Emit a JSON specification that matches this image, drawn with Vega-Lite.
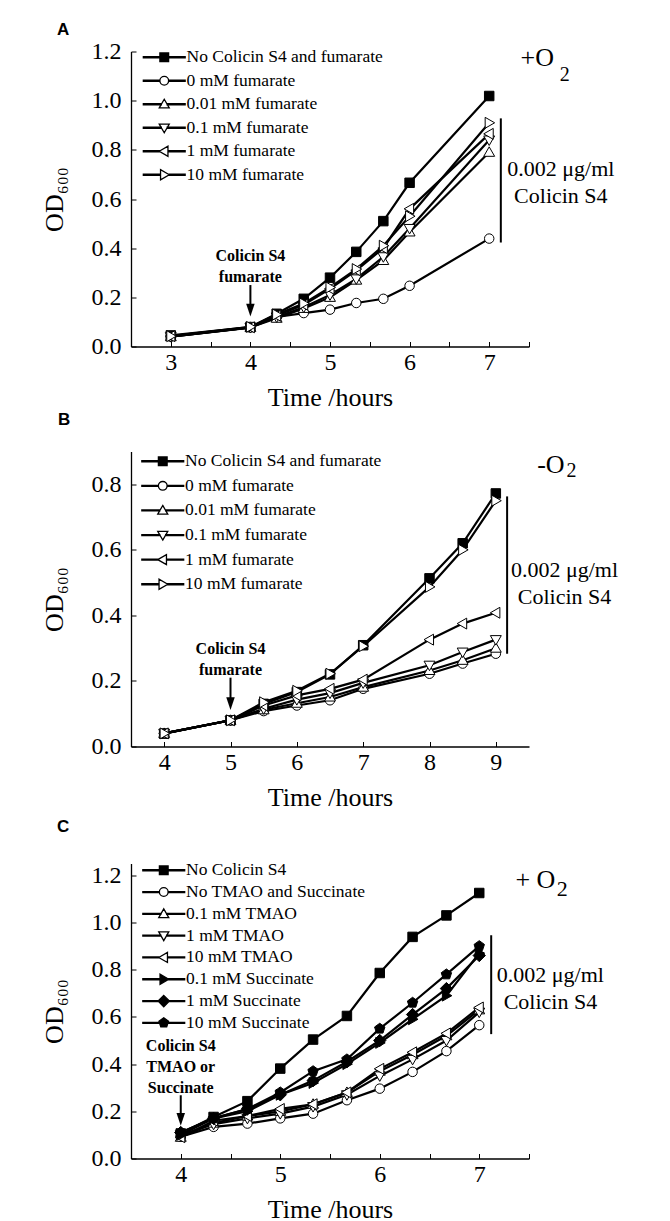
{
  "$schema": "https://vega.github.io/schema/vega-lite/v6.json",
  "padding": {"left": 41, "top": 20.5, "right": 5, "bottom": 5},
  "config": {
    "view": {"stroke": null},
    "font": "Liberation Serif",
    "axis": {
      "labelFont": "Liberation Serif", "labelFontSize": 24, "labelColor": "black",
      "titleFont": "Liberation Serif", "titleFontSize": 26, "titleFontWeight": "normal", "titleColor": "black",
      "domainColor": "black", "domainWidth": 1.3, "tickColor": "black", "tickWidth": 1, "tickSize": -5, "grid": false
    },
    "axisX": {"labelPadding": 8.5, "titlePadding": 10.5},
    "axisY": {"labelPadding": 15, "titlePadding": 24},
    "legend": {"labelFont": "Liberation Serif", "labelFontSize": 17.5, "labelColor": "black", "labelLimit": 0, "title": null, "padding": 0, "symbolSize": 76, "symbolStrokeWidth": 1.3, "symbolOpacity": 1, "labelOffset": 13.5, "orient": "none"},
    "title": {"font": "Liberation Sans", "fontSize": 17, "fontWeight": "bold", "color": "black", "anchor": "start", "baseline": "alphabetic", "frame": "group"}
  },
  "datasets": {
    "A": [
      {"series": "No Colicin S4 and fumarate", "t": 3, "od": 0.045}, {"series": "No Colicin S4 and fumarate", "t": 4, "od": 0.079}, {"series": "No Colicin S4 and fumarate", "t": 4.33, "od": 0.133}, {"series": "No Colicin S4 and fumarate", "t": 4.67, "od": 0.194}, {"series": "No Colicin S4 and fumarate", "t": 5, "od": 0.28}, {"series": "No Colicin S4 and fumarate", "t": 5.33, "od": 0.385}, {"series": "No Colicin S4 and fumarate", "t": 5.67, "od": 0.51}, {"series": "No Colicin S4 and fumarate", "t": 6, "od": 0.666}, {"series": "No Colicin S4 and fumarate", "t": 7, "od": 1.019},
      {"series": "0 mM fumarate", "t": 3, "od": 0.04}, {"series": "0 mM fumarate", "t": 4, "od": 0.078}, {"series": "0 mM fumarate", "t": 4.33, "od": 0.12}, {"series": "0 mM fumarate", "t": 4.67, "od": 0.136}, {"series": "0 mM fumarate", "t": 5, "od": 0.15}, {"series": "0 mM fumarate", "t": 5.33, "od": 0.177}, {"series": "0 mM fumarate", "t": 5.67, "od": 0.194}, {"series": "0 mM fumarate", "t": 6, "od": 0.247}, {"series": "0 mM fumarate", "t": 7, "od": 0.439},
      {"series": "0.01 mM fumarate", "t": 3, "od": 0.04}, {"series": "0.01 mM fumarate", "t": 4, "od": 0.078}, {"series": "0.01 mM fumarate", "t": 4.33, "od": 0.115}, {"series": "0.01 mM fumarate", "t": 4.67, "od": 0.155}, {"series": "0.01 mM fumarate", "t": 5, "od": 0.2}, {"series": "0.01 mM fumarate", "t": 5.33, "od": 0.27}, {"series": "0.01 mM fumarate", "t": 5.67, "od": 0.35}, {"series": "0.01 mM fumarate", "t": 6, "od": 0.466}, {"series": "0.01 mM fumarate", "t": 7, "od": 0.79},
      {"series": "0.1 mM fumarate", "t": 3, "od": 0.04}, {"series": "0.1 mM fumarate", "t": 4, "od": 0.077}, {"series": "0.1 mM fumarate", "t": 4.33, "od": 0.12}, {"series": "0.1 mM fumarate", "t": 4.67, "od": 0.16}, {"series": "0.1 mM fumarate", "t": 5, "od": 0.21}, {"series": "0.1 mM fumarate", "t": 5.33, "od": 0.275}, {"series": "0.1 mM fumarate", "t": 5.67, "od": 0.365}, {"series": "0.1 mM fumarate", "t": 6, "od": 0.48}, {"series": "0.1 mM fumarate", "t": 7, "od": 0.84},
      {"series": "1 mM fumarate", "t": 3, "od": 0.042}, {"series": "1 mM fumarate", "t": 4, "od": 0.078}, {"series": "1 mM fumarate", "t": 4.33, "od": 0.125}, {"series": "1 mM fumarate", "t": 4.67, "od": 0.17}, {"series": "1 mM fumarate", "t": 5, "od": 0.235}, {"series": "1 mM fumarate", "t": 5.33, "od": 0.31}, {"series": "1 mM fumarate", "t": 5.67, "od": 0.4}, {"series": "1 mM fumarate", "t": 6, "od": 0.56}, {"series": "1 mM fumarate", "t": 7, "od": 0.865},
      {"series": "10 mM fumarate", "t": 3, "od": 0.042}, {"series": "10 mM fumarate", "t": 4, "od": 0.08}, {"series": "10 mM fumarate", "t": 4.33, "od": 0.13}, {"series": "10 mM fumarate", "t": 4.67, "od": 0.175}, {"series": "10 mM fumarate", "t": 5, "od": 0.24}, {"series": "10 mM fumarate", "t": 5.33, "od": 0.315}, {"series": "10 mM fumarate", "t": 5.67, "od": 0.41}, {"series": "10 mM fumarate", "t": 6, "od": 0.53}, {"series": "10 mM fumarate", "t": 7, "od": 0.91}
    ],
    "B": [
      {"series": "No Colicin S4 and fumarate", "t": 4, "od": 0.039}, {"series": "No Colicin S4 and fumarate", "t": 5, "od": 0.08}, {"series": "No Colicin S4 and fumarate", "t": 5.5, "od": 0.13}, {"series": "No Colicin S4 and fumarate", "t": 6, "od": 0.166}, {"series": "No Colicin S4 and fumarate", "t": 6.5, "od": 0.22}, {"series": "No Colicin S4 and fumarate", "t": 7, "od": 0.309}, {"series": "No Colicin S4 and fumarate", "t": 8, "od": 0.513}, {"series": "No Colicin S4 and fumarate", "t": 8.5, "od": 0.62}, {"series": "No Colicin S4 and fumarate", "t": 9, "od": 0.772},
      {"series": "0 mM fumarate", "t": 4, "od": 0.04}, {"series": "0 mM fumarate", "t": 5, "od": 0.08}, {"series": "0 mM fumarate", "t": 5.5, "od": 0.108}, {"series": "0 mM fumarate", "t": 6, "od": 0.125}, {"series": "0 mM fumarate", "t": 6.5, "od": 0.141}, {"series": "0 mM fumarate", "t": 7, "od": 0.176}, {"series": "0 mM fumarate", "t": 8, "od": 0.222}, {"series": "0 mM fumarate", "t": 8.5, "od": 0.253}, {"series": "0 mM fumarate", "t": 9, "od": 0.283},
      {"series": "0.01 mM fumarate", "t": 4, "od": 0.04}, {"series": "0.01 mM fumarate", "t": 5, "od": 0.08}, {"series": "0.01 mM fumarate", "t": 5.5, "od": 0.112}, {"series": "0.01 mM fumarate", "t": 6, "od": 0.132}, {"series": "0.01 mM fumarate", "t": 6.5, "od": 0.151}, {"series": "0.01 mM fumarate", "t": 7, "od": 0.181}, {"series": "0.01 mM fumarate", "t": 8, "od": 0.232}, {"series": "0.01 mM fumarate", "t": 8.5, "od": 0.263}, {"series": "0.01 mM fumarate", "t": 9, "od": 0.3},
      {"series": "0.1 mM fumarate", "t": 4, "od": 0.04}, {"series": "0.1 mM fumarate", "t": 5, "od": 0.08}, {"series": "0.1 mM fumarate", "t": 5.5, "od": 0.115}, {"series": "0.1 mM fumarate", "t": 6, "od": 0.143}, {"series": "0.1 mM fumarate", "t": 6.5, "od": 0.163}, {"series": "0.1 mM fumarate", "t": 7, "od": 0.194}, {"series": "0.1 mM fumarate", "t": 8, "od": 0.248}, {"series": "0.1 mM fumarate", "t": 8.5, "od": 0.288}, {"series": "0.1 mM fumarate", "t": 9, "od": 0.326},
      {"series": "1 mM fumarate", "t": 4, "od": 0.04}, {"series": "1 mM fumarate", "t": 5, "od": 0.08}, {"series": "1 mM fumarate", "t": 5.5, "od": 0.125}, {"series": "1 mM fumarate", "t": 6, "od": 0.156}, {"series": "1 mM fumarate", "t": 6.5, "od": 0.176}, {"series": "1 mM fumarate", "t": 7, "od": 0.204}, {"series": "1 mM fumarate", "t": 8, "od": 0.326}, {"series": "1 mM fumarate", "t": 8.5, "od": 0.375}, {"series": "1 mM fumarate", "t": 9, "od": 0.408},
      {"series": "10 mM fumarate", "t": 4, "od": 0.04}, {"series": "10 mM fumarate", "t": 5, "od": 0.08}, {"series": "10 mM fumarate", "t": 5.5, "od": 0.135}, {"series": "10 mM fumarate", "t": 6, "od": 0.17}, {"series": "10 mM fumarate", "t": 6.5, "od": 0.222}, {"series": "10 mM fumarate", "t": 7, "od": 0.306}, {"series": "10 mM fumarate", "t": 8, "od": 0.487}, {"series": "10 mM fumarate", "t": 8.5, "od": 0.6}, {"series": "10 mM fumarate", "t": 9, "od": 0.75}
    ],
    "C": [
      {"series": "No Colicin S4", "t": 4, "od": 0.106}, {"series": "No Colicin S4", "t": 4.33, "od": 0.176}, {"series": "No Colicin S4", "t": 4.67, "od": 0.243}, {"series": "No Colicin S4", "t": 5, "od": 0.381}, {"series": "No Colicin S4", "t": 5.33, "od": 0.504}, {"series": "No Colicin S4", "t": 5.67, "od": 0.604}, {"series": "No Colicin S4", "t": 6, "od": 0.786}, {"series": "No Colicin S4", "t": 6.33, "od": 0.939}, {"series": "No Colicin S4", "t": 6.67, "od": 1.03}, {"series": "No Colicin S4", "t": 7, "od": 1.125},
      {"series": "No TMAO and Succinate", "t": 4, "od": 0.092}, {"series": "No TMAO and Succinate", "t": 4.33, "od": 0.134}, {"series": "No TMAO and Succinate", "t": 4.67, "od": 0.148}, {"series": "No TMAO and Succinate", "t": 5, "od": 0.17}, {"series": "No TMAO and Succinate", "t": 5.33, "od": 0.19}, {"series": "No TMAO and Succinate", "t": 5.67, "od": 0.247}, {"series": "No TMAO and Succinate", "t": 6, "od": 0.296}, {"series": "No TMAO and Succinate", "t": 6.33, "od": 0.367}, {"series": "No TMAO and Succinate", "t": 6.67, "od": 0.455}, {"series": "No TMAO and Succinate", "t": 7, "od": 0.565},
      {"series": "0.1 mM TMAO", "t": 4, "od": 0.09}, {"series": "0.1 mM TMAO", "t": 4.33, "od": 0.15}, {"series": "0.1 mM TMAO", "t": 4.67, "od": 0.18}, {"series": "0.1 mM TMAO", "t": 5, "od": 0.2}, {"series": "0.1 mM TMAO", "t": 5.33, "od": 0.23}, {"series": "0.1 mM TMAO", "t": 5.67, "od": 0.28}, {"series": "0.1 mM TMAO", "t": 6, "od": 0.37}, {"series": "0.1 mM TMAO", "t": 6.33, "od": 0.44}, {"series": "0.1 mM TMAO", "t": 6.67, "od": 0.52}, {"series": "0.1 mM TMAO", "t": 7, "od": 0.63},
      {"series": "1 mM TMAO", "t": 4, "od": 0.1}, {"series": "1 mM TMAO", "t": 4.33, "od": 0.145}, {"series": "1 mM TMAO", "t": 4.67, "od": 0.17}, {"series": "1 mM TMAO", "t": 5, "od": 0.19}, {"series": "1 mM TMAO", "t": 5.33, "od": 0.22}, {"series": "1 mM TMAO", "t": 5.67, "od": 0.27}, {"series": "1 mM TMAO", "t": 6, "od": 0.35}, {"series": "1 mM TMAO", "t": 6.33, "od": 0.42}, {"series": "1 mM TMAO", "t": 6.67, "od": 0.5}, {"series": "1 mM TMAO", "t": 7, "od": 0.62},
      {"series": "10 mM TMAO", "t": 4, "od": 0.09}, {"series": "10 mM TMAO", "t": 4.33, "od": 0.16}, {"series": "10 mM TMAO", "t": 4.67, "od": 0.18}, {"series": "10 mM TMAO", "t": 5, "od": 0.21}, {"series": "10 mM TMAO", "t": 5.33, "od": 0.23}, {"series": "10 mM TMAO", "t": 5.67, "od": 0.28}, {"series": "10 mM TMAO", "t": 6, "od": 0.38}, {"series": "10 mM TMAO", "t": 6.33, "od": 0.45}, {"series": "10 mM TMAO", "t": 6.67, "od": 0.53}, {"series": "10 mM TMAO", "t": 7, "od": 0.64},
      {"series": "0.1 mM Succinate", "t": 4, "od": 0.1}, {"series": "0.1 mM Succinate", "t": 4.33, "od": 0.17}, {"series": "0.1 mM Succinate", "t": 4.67, "od": 0.2}, {"series": "0.1 mM Succinate", "t": 5, "od": 0.27}, {"series": "0.1 mM Succinate", "t": 5.33, "od": 0.32}, {"series": "0.1 mM Succinate", "t": 5.67, "od": 0.4}, {"series": "0.1 mM Succinate", "t": 6, "od": 0.49}, {"series": "0.1 mM Succinate", "t": 6.33, "od": 0.59}, {"series": "0.1 mM Succinate", "t": 6.67, "od": 0.69}, {"series": "0.1 mM Succinate", "t": 7, "od": 0.87},
      {"series": "1 mM Succinate", "t": 4, "od": 0.11}, {"series": "1 mM Succinate", "t": 4.33, "od": 0.17}, {"series": "1 mM Succinate", "t": 4.67, "od": 0.21}, {"series": "1 mM Succinate", "t": 5, "od": 0.27}, {"series": "1 mM Succinate", "t": 5.33, "od": 0.33}, {"series": "1 mM Succinate", "t": 5.67, "od": 0.41}, {"series": "1 mM Succinate", "t": 6, "od": 0.5}, {"series": "1 mM Succinate", "t": 6.33, "od": 0.61}, {"series": "1 mM Succinate", "t": 6.67, "od": 0.72}, {"series": "1 mM Succinate", "t": 7, "od": 0.86},
      {"series": "10 mM Succinate", "t": 4, "od": 0.11}, {"series": "10 mM Succinate", "t": 4.33, "od": 0.17}, {"series": "10 mM Succinate", "t": 4.67, "od": 0.21}, {"series": "10 mM Succinate", "t": 5, "od": 0.28}, {"series": "10 mM Succinate", "t": 5.33, "od": 0.37}, {"series": "10 mM Succinate", "t": 5.67, "od": 0.42}, {"series": "10 mM Succinate", "t": 6, "od": 0.55}, {"series": "10 mM Succinate", "t": 6.33, "od": 0.66}, {"series": "10 mM Succinate", "t": 6.67, "od": 0.78}, {"series": "10 mM Succinate", "t": 7, "od": 0.9}
    ]
  },
  "spacing": 105,
  "bounds": "flush",
  "resolve": {"scale": {"shape": "independent", "fill": "independent"}, "legend": {"shape": "independent", "fill": "independent"}},
  "vconcat": [
    {
      "title": {"text": "A", "dx": -74, "offset": 1},
      "width": 398, "height": 295,
      "resolve": {"scale": {"shape": "independent", "fill": "independent"}, "legend": {"shape": "independent", "fill": "independent"}},
      "layer": [
        {
          "data": {"name": "A"},
          "mark": {"type": "line", "color": "black", "strokeWidth": 2.2},
          "encoding": {
            "x": {"field": "t", "type": "quantitative", "scale": {"domain": [2.5, 7.5], "nice": false, "zero": false}, "axis": {"title": "Time /hours", "values": [3, 3.5, 4, 4.5, 5, 5.5, 6, 6.5, 7, 7.5], "labelExpr": "datum.value % 1 == 0 ? format(datum.value, 'd') : ''"}},
            "y": {"field": "od", "type": "quantitative", "scale": {"domain": [0, 1.2], "nice": false}, "axis": {"title": "OD₆₀₀", "values": [0, 0.1, 0.2, 0.3, 0.4, 0.5, 0.6, 0.7, 0.8, 0.9, 1.0, 1.1, 1.2], "labelExpr": "round(datum.value*10) % 2 == 0 ? format(datum.value, '.1f') : ''"}},
            "detail": {"field": "series"}
          }
        },
        {
          "data": {"name": "A"},
          "mark": {"type": "point", "stroke": "black", "strokeWidth": 1, "size": 90, "opacity": 1, "fillOpacity": 1},
          "encoding": {
            "x": {"field": "t", "type": "quantitative", "title": "Time /hours"},
            "y": {"field": "od", "type": "quantitative", "title": "OD₆₀₀"},
            "fill": {"field": "series", "type": "nominal", "scale": {"domain": ["No Colicin S4 and fumarate", "0 mM fumarate", "0.01 mM fumarate", "0.1 mM fumarate", "1 mM fumarate", "10 mM fumarate"], "range": ["black", "white", "white", "white", "white", "white"]}, "legend": null},
            "shape": {"field": "series", "type": "nominal", "scale": {"domain": ["No Colicin S4 and fumarate", "0 mM fumarate", "0.01 mM fumarate", "0.1 mM fumarate", "1 mM fumarate", "10 mM fumarate"], "range": ["M-1,-1H1V1H-1Z", "M1,0A1,1,0,1,1,-1,0A1,1,0,1,1,1,0Z", "M0,-1.15L1.15,0.85L-1.15,0.85Z", "M0,1.15L1.15,-0.85L-1.15,-0.85Z", "M-1.15,0L0.85,-1.15L0.85,1.15Z", "M1.15,0L-0.85,-1.15L-0.85,1.15Z"]}, "legend": null}
          }
        },
        {
          "data": {"name": "A"},
          "transform": [{"filter": "false"}],
          "mark": {"type": "point", "filled": true, "stroke": "black", "strokeWidth": 1.3, "size": 76, "opacity": 1},
          "encoding": {
            "x": {"field": "t", "type": "quantitative", "title": "Time /hours"},
            "y": {"field": "od", "type": "quantitative", "title": "OD₆₀₀"},
            "fill": {"field": "series", "type": "nominal", "scale": {"domain": ["No Colicin S4 and fumarate", "0 mM fumarate", "0.01 mM fumarate", "0.1 mM fumarate", "1 mM fumarate", "10 mM fumarate"], "range": ["black", "white", "white", "white", "white", "white"]}, "legend": {"legendX": 24.5, "legendY": -3, "rowPadding": 4.5}},
            "shape": {"field": "series", "type": "nominal", "scale": {"domain": ["No Colicin S4 and fumarate", "0 mM fumarate", "0.01 mM fumarate", "0.1 mM fumarate", "1 mM fumarate", "10 mM fumarate"], "range": ["M-4.8,-0.12H-1V0.12H-4.8ZM1,-0.12H4.8V0.12H1ZM-1,-1H1V1H-1Z", "M-4.8,-0.12H-1V0.12H-4.8ZM1,-0.12H4.8V0.12H1ZM1,0A1,1,0,1,1,-1,0A1,1,0,1,1,1,0Z", "M-4.8,-0.12H-0.66V0.12H-4.8ZM0.66,-0.12H4.8V0.12H0.66ZM0,-1.15L1.15,0.85L-1.15,0.85Z", "M-4.8,-0.12H-0.66V0.12H-4.8ZM0.66,-0.12H4.8V0.12H0.66ZM0,1.15L1.15,-0.85L-1.15,-0.85Z", "M-4.8,-0.12H-1.15V0.12H-4.8ZM0.85,-0.12H4.8V0.12H0.85ZM-1.15,0L0.85,-1.15L0.85,1.15Z", "M-4.8,-0.12H-0.85V0.12H-4.8ZM1.15,-0.12H4.8V0.12H1.15ZM1.15,0L-0.85,-1.15L-0.85,1.15Z"]}, "legend": {"legendX": 24.5, "legendY": -3, "rowPadding": 4.5}}
          }
        },
        {"data": {"values": [{}]}, "mark": {"type": "rule", "color": "black", "strokeWidth": 2}, "encoding": {"x": {"datum": 7.146}, "y": {"datum": 0.423}, "y2": {"datum": 0.928}}},
        {"data": {"values": [{}]}, "mark": {"type": "text", "color": "black", "font": "Liberation Serif", "fontSize": 26, "align": "center", "baseline": "middle"}, "encoding": {"x": {"datum": 7.604}, "y": {"datum": 1.172}, "text": {"value": "+O"}}},
        {"data": {"values": [{}]}, "mark": {"type": "text", "color": "black", "font": "Liberation Serif", "fontSize": 20, "align": "center", "baseline": "middle"}, "encoding": {"x": {"datum": 7.95}, "y": {"datum": 1.104}, "text": {"value": "2"}}},
        {"data": {"values": [{}]}, "mark": {"type": "text", "color": "black", "font": "Liberation Serif", "fontSize": 22, "align": "center", "baseline": "middle", "lineHeight": 27}, "encoding": {"x": {"datum": 7.9}, "y": {"datum": 0.724}, "text": {"value": ["0.002 μg/ml", "Colicin S4"]}}},
        {"data": {"values": [{}]}, "mark": {"type": "text", "color": "black", "font": "Liberation Serif", "fontSize": 16, "fontWeight": "bold", "align": "center", "baseline": "middle", "lineHeight": 21}, "encoding": {"x": {"datum": 4}, "y": {"datum": 0.37}, "text": {"value": ["Colicin S4", "fumarate"]}}},
        {"data": {"values": [{}]}, "mark": {"type": "rule", "color": "black", "strokeWidth": 2}, "encoding": {"x": {"datum": 4}, "y": {"datum": 0.25}, "y2": {"datum": 0.16}}},
        {"data": {"values": [{}]}, "mark": {"type": "point", "shape": "M-1,-1.5L1,-1.5L0,1.5Z", "filled": true, "color": "black", "opacity": 1, "size": 72}, "encoding": {"x": {"datum": 4}, "y": {"datum": 0.148}}}
      ]
    },
    {
      "spacing": 117,
      "bounds": "flush",
      "resolve": {"scale": {"shape": "independent", "fill": "independent"}, "legend": {"shape": "independent", "fill": "independent"}},
      "vconcat": [
        {
          "title": {"text": "B", "dx": -73, "offset": 23},
          "width": 398, "height": 295,
          "resolve": {"scale": {"shape": "independent", "fill": "independent"}, "legend": {"shape": "independent", "fill": "independent"}},
          "layer": [
            {
              "data": {"name": "B"},
              "mark": {"type": "line", "color": "black", "strokeWidth": 2.2},
              "encoding": {
                "x": {"field": "t", "type": "quantitative", "scale": {"domain": [3.5, 9.5], "nice": false, "zero": false}, "axis": {"title": "Time /hours", "values": [4, 4.5, 5, 5.5, 6, 6.5, 7, 7.5, 8, 8.5, 9, 9.5], "labelExpr": "datum.value % 1 == 0 ? format(datum.value, 'd') : ''"}},
                "y": {"field": "od", "type": "quantitative", "scale": {"domain": [0, 0.9], "nice": false}, "axis": {"title": "OD₆₀₀", "values": [0, 0.1, 0.2, 0.3, 0.4, 0.5, 0.6, 0.7, 0.8, 0.9], "labelExpr": "round(datum.value*10) % 2 == 0 ? format(datum.value, '.1f') : ''"}},
                "detail": {"field": "series"}
              }
            },
            {
              "data": {"name": "B"},
              "mark": {"type": "point", "stroke": "black", "strokeWidth": 1, "size": 90, "opacity": 1, "fillOpacity": 1},
              "encoding": {
                "x": {"field": "t", "type": "quantitative", "title": "Time /hours"},
                "y": {"field": "od", "type": "quantitative", "title": "OD₆₀₀"},
                "fill": {"field": "series", "type": "nominal", "scale": {"domain": ["No Colicin S4 and fumarate", "0 mM fumarate", "0.01 mM fumarate", "0.1 mM fumarate", "1 mM fumarate", "10 mM fumarate"], "range": ["black", "white", "white", "white", "white", "white"]}, "legend": null},
                "shape": {"field": "series", "type": "nominal", "scale": {"domain": ["No Colicin S4 and fumarate", "0 mM fumarate", "0.01 mM fumarate", "0.1 mM fumarate", "1 mM fumarate", "10 mM fumarate"], "range": ["M-1,-1H1V1H-1Z", "M1,0A1,1,0,1,1,-1,0A1,1,0,1,1,1,0Z", "M0,-1.15L1.15,0.85L-1.15,0.85Z", "M0,1.15L1.15,-0.85L-1.15,-0.85Z", "M-1.15,0L0.85,-1.15L0.85,1.15Z", "M1.15,0L-0.85,-1.15L-0.85,1.15Z"]}, "legend": null}
              }
            },
            {
              "data": {"name": "B"},
              "transform": [{"filter": "false"}],
              "mark": {"type": "point", "filled": true, "stroke": "black", "strokeWidth": 1.3, "size": 76, "opacity": 1},
              "encoding": {
                "x": {"field": "t", "type": "quantitative", "title": "Time /hours"},
                "y": {"field": "od", "type": "quantitative", "title": "OD₆₀₀"},
                "fill": {"field": "series", "type": "nominal", "scale": {"domain": ["No Colicin S4 and fumarate", "0 mM fumarate", "0.01 mM fumarate", "0.1 mM fumarate", "1 mM fumarate", "10 mM fumarate"], "range": ["black", "white", "white", "white", "white", "white"]}, "legend": {"legendX": 23, "legendY": 1, "rowPadding": 5.6}},
                "shape": {"field": "series", "type": "nominal", "scale": {"domain": ["No Colicin S4 and fumarate", "0 mM fumarate", "0.01 mM fumarate", "0.1 mM fumarate", "1 mM fumarate", "10 mM fumarate"], "range": ["M-4.8,-0.12H-1V0.12H-4.8ZM1,-0.12H4.8V0.12H1ZM-1,-1H1V1H-1Z", "M-4.8,-0.12H-1V0.12H-4.8ZM1,-0.12H4.8V0.12H1ZM1,0A1,1,0,1,1,-1,0A1,1,0,1,1,1,0Z", "M-4.8,-0.12H-0.66V0.12H-4.8ZM0.66,-0.12H4.8V0.12H0.66ZM0,-1.15L1.15,0.85L-1.15,0.85Z", "M-4.8,-0.12H-0.66V0.12H-4.8ZM0.66,-0.12H4.8V0.12H0.66ZM0,1.15L1.15,-0.85L-1.15,-0.85Z", "M-4.8,-0.12H-1.15V0.12H-4.8ZM0.85,-0.12H4.8V0.12H0.85ZM-1.15,0L0.85,-1.15L0.85,1.15Z", "M-4.8,-0.12H-0.85V0.12H-4.8ZM1.15,-0.12H4.8V0.12H1.15ZM1.15,0L-0.85,-1.15L-0.85,1.15Z"]}, "legend": {"legendX": 23, "legendY": 1, "rowPadding": 5.6}}
              }
            },
            {"data": {"values": [{}]}, "mark": {"type": "rule", "color": "black", "strokeWidth": 2}, "encoding": {"x": {"datum": 9.17}, "y": {"datum": 0.283}, "y2": {"datum": 0.763}}},
            {"data": {"values": [{}]}, "mark": {"type": "text", "color": "black", "font": "Liberation Serif", "fontSize": 26, "align": "center", "baseline": "middle"}, "encoding": {"x": {"datum": 9.83}, "y": {"datum": 0.859}, "text": {"value": "-O"}}},
            {"data": {"values": [{}]}, "mark": {"type": "text", "color": "black", "font": "Liberation Serif", "fontSize": 20, "align": "center", "baseline": "middle"}, "encoding": {"x": {"datum": 10.14}, "y": {"datum": 0.84}, "text": {"value": "2"}}},
            {"data": {"values": [{}]}, "mark": {"type": "text", "color": "black", "font": "Liberation Serif", "fontSize": 22, "align": "center", "baseline": "middle", "lineHeight": 27}, "encoding": {"x": {"datum": 10.035}, "y": {"datum": 0.538}, "text": {"value": ["0.002 μg/ml", "Colicin S4"]}}},
            {"data": {"values": [{}]}, "mark": {"type": "text", "color": "black", "font": "Liberation Serif", "fontSize": 16, "fontWeight": "bold", "align": "center", "baseline": "middle", "lineHeight": 21}, "encoding": {"x": {"datum": 5}, "y": {"datum": 0.2965}, "text": {"value": ["Colicin S4", "fumarate"]}}},
            {"data": {"values": [{}]}, "mark": {"type": "rule", "color": "black", "strokeWidth": 2}, "encoding": {"x": {"datum": 5}, "y": {"datum": 0.21}, "y2": {"datum": 0.14}}},
            {"data": {"values": [{}]}, "mark": {"type": "point", "shape": "M-1,-1.5L1,-1.5L0,1.5Z", "filled": true, "color": "black", "opacity": 1, "size": 72}, "encoding": {"x": {"datum": 5}, "y": {"datum": 0.131}}}
          ]
        },
        {
          "title": {"text": "C", "dx": -74, "offset": 26},
          "width": 398, "height": 295,
          "resolve": {"scale": {"shape": "independent", "fill": "independent"}, "legend": {"shape": "independent", "fill": "independent"}},
          "layer": [
            {
              "data": {"name": "C"},
              "mark": {"type": "line", "color": "black", "strokeWidth": 2.2},
              "encoding": {
                "x": {"field": "t", "type": "quantitative", "scale": {"domain": [3.5, 7.5], "nice": false, "zero": false}, "axis": {"title": "Time /hours", "values": [4, 4.5, 5, 5.5, 6, 6.5, 7, 7.5], "labelExpr": "datum.value % 1 == 0 ? format(datum.value, 'd') : ''"}},
                "y": {"field": "od", "type": "quantitative", "scale": {"domain": [0, 1.25], "nice": false}, "axis": {"title": "OD₆₀₀", "values": [0, 0.1, 0.2, 0.3, 0.4, 0.5, 0.6, 0.7, 0.8, 0.9, 1.0, 1.1, 1.2], "labelExpr": "round(datum.value*10) % 2 == 0 ? format(datum.value, '.1f') : ''"}},
                "detail": {"field": "series"}
              }
            },
            {
              "data": {"name": "C"},
              "mark": {"type": "point", "stroke": "black", "strokeWidth": 1, "size": 90, "opacity": 1, "fillOpacity": 1},
              "encoding": {
                "x": {"field": "t", "type": "quantitative", "title": "Time /hours"},
                "y": {"field": "od", "type": "quantitative", "title": "OD₆₀₀"},
                "fill": {"field": "series", "type": "nominal", "scale": {"domain": ["No Colicin S4", "No TMAO and Succinate", "0.1 mM TMAO", "1 mM TMAO", "10 mM TMAO", "0.1 mM Succinate", "1 mM Succinate", "10 mM Succinate"], "range": ["black", "white", "white", "white", "white", "black", "black", "black"]}, "legend": null},
                "shape": {"field": "series", "type": "nominal", "scale": {"domain": ["No Colicin S4", "No TMAO and Succinate", "0.1 mM TMAO", "1 mM TMAO", "10 mM TMAO", "0.1 mM Succinate", "1 mM Succinate", "10 mM Succinate"], "range": ["M-1,-1H1V1H-1Z", "M1,0A1,1,0,1,1,-1,0A1,1,0,1,1,1,0Z", "M0,-1.15L1.15,0.85L-1.15,0.85Z", "M0,1.15L1.15,-0.85L-1.15,-0.85Z", "M-1.15,0L0.85,-1.15L0.85,1.15Z", "M1.15,0L-0.85,-1.15L-0.85,1.15Z", "M0,-1.3L1.3,0L0,1.3L-1.3,0Z", "M0,-1.15L1.094,-0.355L0.676,0.93L-0.676,0.93L-1.094,-0.355Z"]}, "legend": null}
              }
            },
            {
              "data": {"name": "C"},
              "transform": [{"filter": "false"}],
              "mark": {"type": "point", "filled": true, "stroke": "black", "strokeWidth": 1.3, "size": 76, "opacity": 1},
              "encoding": {
                "x": {"field": "t", "type": "quantitative", "title": "Time /hours"},
                "y": {"field": "od", "type": "quantitative", "title": "OD₆₀₀"},
                "fill": {"field": "series", "type": "nominal", "scale": {"domain": ["No Colicin S4", "No TMAO and Succinate", "0.1 mM TMAO", "1 mM TMAO", "10 mM TMAO", "0.1 mM Succinate", "1 mM Succinate", "10 mM Succinate"], "range": ["black", "white", "white", "white", "white", "black", "black", "black"]}, "legend": {"legendX": 24, "legendY": -2, "rowPadding": 2.8}},
                "shape": {"field": "series", "type": "nominal", "scale": {"domain": ["No Colicin S4", "No TMAO and Succinate", "0.1 mM TMAO", "1 mM TMAO", "10 mM TMAO", "0.1 mM Succinate", "1 mM Succinate", "10 mM Succinate"], "range": ["M-4.8,-0.12H-1V0.12H-4.8ZM1,-0.12H4.8V0.12H1ZM-1,-1H1V1H-1Z", "M-4.8,-0.12H-1V0.12H-4.8ZM1,-0.12H4.8V0.12H1ZM1,0A1,1,0,1,1,-1,0A1,1,0,1,1,1,0Z", "M-4.8,-0.12H-0.66V0.12H-4.8ZM0.66,-0.12H4.8V0.12H0.66ZM0,-1.15L1.15,0.85L-1.15,0.85Z", "M-4.8,-0.12H-0.66V0.12H-4.8ZM0.66,-0.12H4.8V0.12H0.66ZM0,1.15L1.15,-0.85L-1.15,-0.85Z", "M-4.8,-0.12H-1.15V0.12H-4.8ZM0.85,-0.12H4.8V0.12H0.85ZM-1.15,0L0.85,-1.15L0.85,1.15Z", "M-4.8,-0.12H-0.85V0.12H-4.8ZM1.15,-0.12H4.8V0.12H1.15ZM1.15,0L-0.85,-1.15L-0.85,1.15Z", "M-4.8,-0.12H-1.3V0.12H-4.8ZM1.3,-0.12H4.8V0.12H1.3ZM0,-1.3L1.3,0L0,1.3L-1.3,0Z", "M-4.8,-0.12H-1.05V0.12H-4.8ZM1.05,-0.12H4.8V0.12H1.05ZM0,-1.15L1.094,-0.355L0.676,0.93L-0.676,0.93L-1.094,-0.355Z"]}, "legend": {"legendX": 24, "legendY": -2, "rowPadding": 2.8}}
              }
            },
            {"data": {"values": [{}]}, "mark": {"type": "rule", "color": "black", "strokeWidth": 2}, "encoding": {"x": {"datum": 7.12}, "y": {"datum": 0.527}, "y2": {"datum": 0.946}}},
            {"data": {"values": [{}]}, "mark": {"type": "text", "color": "black", "font": "Liberation Serif", "fontSize": 26, "align": "center", "baseline": "middle"}, "encoding": {"x": {"datum": 7.564}, "y": {"datum": 1.18}, "text": {"value": "+ O"}}},
            {"data": {"values": [{}]}, "mark": {"type": "text", "color": "black", "font": "Liberation Serif", "fontSize": 22, "align": "center", "baseline": "middle"}, "encoding": {"x": {"datum": 7.835}, "y": {"datum": 1.142}, "text": {"value": "2"}}},
            {"data": {"values": [{}]}, "mark": {"type": "text", "color": "black", "font": "Liberation Serif", "fontSize": 22, "align": "center", "baseline": "middle", "lineHeight": 27}, "encoding": {"x": {"datum": 7.715}, "y": {"datum": 0.777}, "text": {"value": ["0.002 μg/ml", "Colicin S4"]}}},
            {"data": {"values": [{}]}, "mark": {"type": "text", "color": "black", "font": "Liberation Serif", "fontSize": 16, "fontWeight": "bold", "align": "center", "baseline": "middle", "lineHeight": 20.8}, "encoding": {"x": {"datum": 4}, "y": {"datum": 0.476}, "text": {"value": ["Colicin S4", "TMAO or", "Succinate"]}}},
            {"data": {"values": [{}]}, "mark": {"type": "rule", "color": "black", "strokeWidth": 2}, "encoding": {"x": {"datum": 4}, "y": {"datum": 0.268}, "y2": {"datum": 0.18}}},
            {"data": {"values": [{}]}, "mark": {"type": "point", "shape": "M-1,-1.5L1,-1.5L0,1.5Z", "filled": true, "color": "black", "opacity": 1, "size": 72}, "encoding": {"x": {"datum": 4}, "y": {"datum": 0.166}}}
          ]
        }
      ]
    }
  ]
}
